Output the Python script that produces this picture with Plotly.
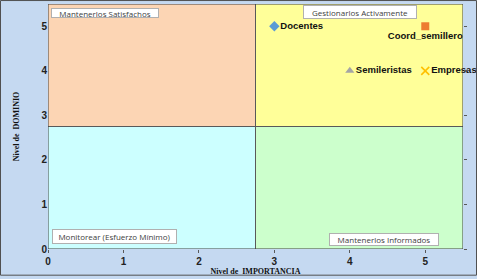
import plotly.graph_objects as go

names = ["Docentes", "Coord_semillero", "Semileristas", "Empresas"]
importancia = [3, 5, 4, 5]
dominio = [5, 5, 4, 4]
symbols = ["diamond", "square", "triangle-up", "x-thin-open"]
colors = ["#5B9BD5", "#ED7D31", "#A5A5A5", "#FFC000"]
text_pos = ["middle right", "bottom center", "middle right", "middle right"]

x_ticks = [0, 1, 2, 3, 4, 5]
y_ticks = [0, 1, 2, 3, 4, 5]
axis_max = 5.5
split = 2.75

quadrants = [
    (0, split, split, axis_max, "#FCD5B4", "Mantenerlos Satisfachos"),
    (split, axis_max, split, axis_max, "#FFFF99", "Gestionarlos Activamente"),
    (0, split, 0, split, "#CCFFFF", "Monitorear (Esfuerzo Mínimo)"),
    (split, axis_max, 0, split, "#CCFFCC", "Mantenerlos Informados"),
]

fig = go.Figure()
for i, n in enumerate(names):
    fig.add_trace(go.Scatter(
        x=[importancia[i]], y=[dominio[i]], mode="markers+text", name=n,
        text=["<b>" + n + "</b>"], textposition=text_pos[i],
        textfont=dict(family="Arial, Liberation Sans", size=9.5, color="#111111"),
        marker=dict(symbol=symbols[i], color=colors[i], size=8,
                    line=dict(color=colors[i], width=1.6 if i == 3 else 0)),
        cliponaxis=False, showlegend=False))

shapes = []
for x0, x1, y0, y1, c, _ in quadrants:
    shapes.append(dict(type="rect", xref="x", yref="y", x0=x0, x1=x1, y0=y0, y1=y1,
                       fillcolor=c, line=dict(width=0), layer="below"))
shapes.append(dict(type="line", xref="x", yref="y", x0=split, x1=split, y0=0, y1=axis_max,
                   line=dict(color="#595959", width=1)))
shapes.append(dict(type="line", xref="x", yref="y", x0=0, x1=axis_max, y0=split, y1=split,
                   line=dict(color="#595959", width=1)))
shapes.append(dict(type="rect", xref="x", yref="y", x0=0, x1=axis_max, y0=0, y1=axis_max,
                   line=dict(color="#404040", width=1)))
# outer figure border
shapes.append(dict(type="rect", xref="paper", yref="paper",
                   x0=-47.5/415, x1=1+13.5/415, y0=-26.5/248, y1=1+3.5/248,
                   line=dict(color="#505050", width=1)))

annots = []
# x, y, yanchor, box width, box height
label_box = [
    (0.04, 5.42, "top", 106, 8),
    (3.386, 5.467, "top", 112, 12),
    (0.053, 0.111, "bottom", 123, 13),
    (3.73, 0.067, "bottom", 108, 11),
]
for (x0, x1, y0, y1, c, lab), (ax, ay, ya, w, h) in zip(quadrants, label_box):
    annots.append(dict(x=ax, y=ay, xref="x", yref="y", text=lab, showarrow=False,
                       xanchor="left", yanchor=ya, width=w, height=h, align="center",
                       valign="middle",
                       bgcolor="white", bordercolor="#B0B0B0",
                       borderwidth=1, borderpad=0,
                       font=dict(family="Open Sans, Arial", size=8, color="#404040")))

fig.update_layout(
    width=477, height=279,
    margin=dict(l=48, r=14, t=4, b=27),
    paper_bgcolor="#C5D9F1", plot_bgcolor="#C5D9F1",
    shapes=shapes, annotations=annots,
    xaxis=dict(range=[0, axis_max], tickvals=x_ticks, showgrid=False, zeroline=False,
               ticks="outside", ticklen=3, tickcolor="#595959",
               tickfont=dict(family="Arial", size=10, color="#222222", weight="bold"),
               title=dict(text="<b>Nivel de  IMPORTANCIA</b>", standoff=2,
                          font=dict(family="Liberation Serif, Times New Roman", size=8, color="#111111"))),
    yaxis=dict(range=[0, axis_max], tickvals=y_ticks, showgrid=False, zeroline=False,
               ticks="",
               tickfont=dict(family="Arial", size=10, color="#222222", weight="bold"),
               title=dict(text="<b>Nivel de  DOMINIO</b>", standoff=20,
                          font=dict(family="Liberation Serif, Times New Roman", size=8, color="#111111"))),
    yaxis2=dict(range=[0, axis_max], tickvals=y_ticks, overlaying="y", side="right",
                showticklabels=False, ticks="outside", ticklen=3, tickcolor="#595959",
                showgrid=False, zeroline=False),
)
fig.add_trace(go.Scatter(x=[None], y=[None], yaxis="y2", showlegend=False, hoverinfo="skip"))

fig.write_html("out.html", config={"displayModeBar": False},
               post_script="document.body.style.margin='0';document.body.style.padding='0';")
